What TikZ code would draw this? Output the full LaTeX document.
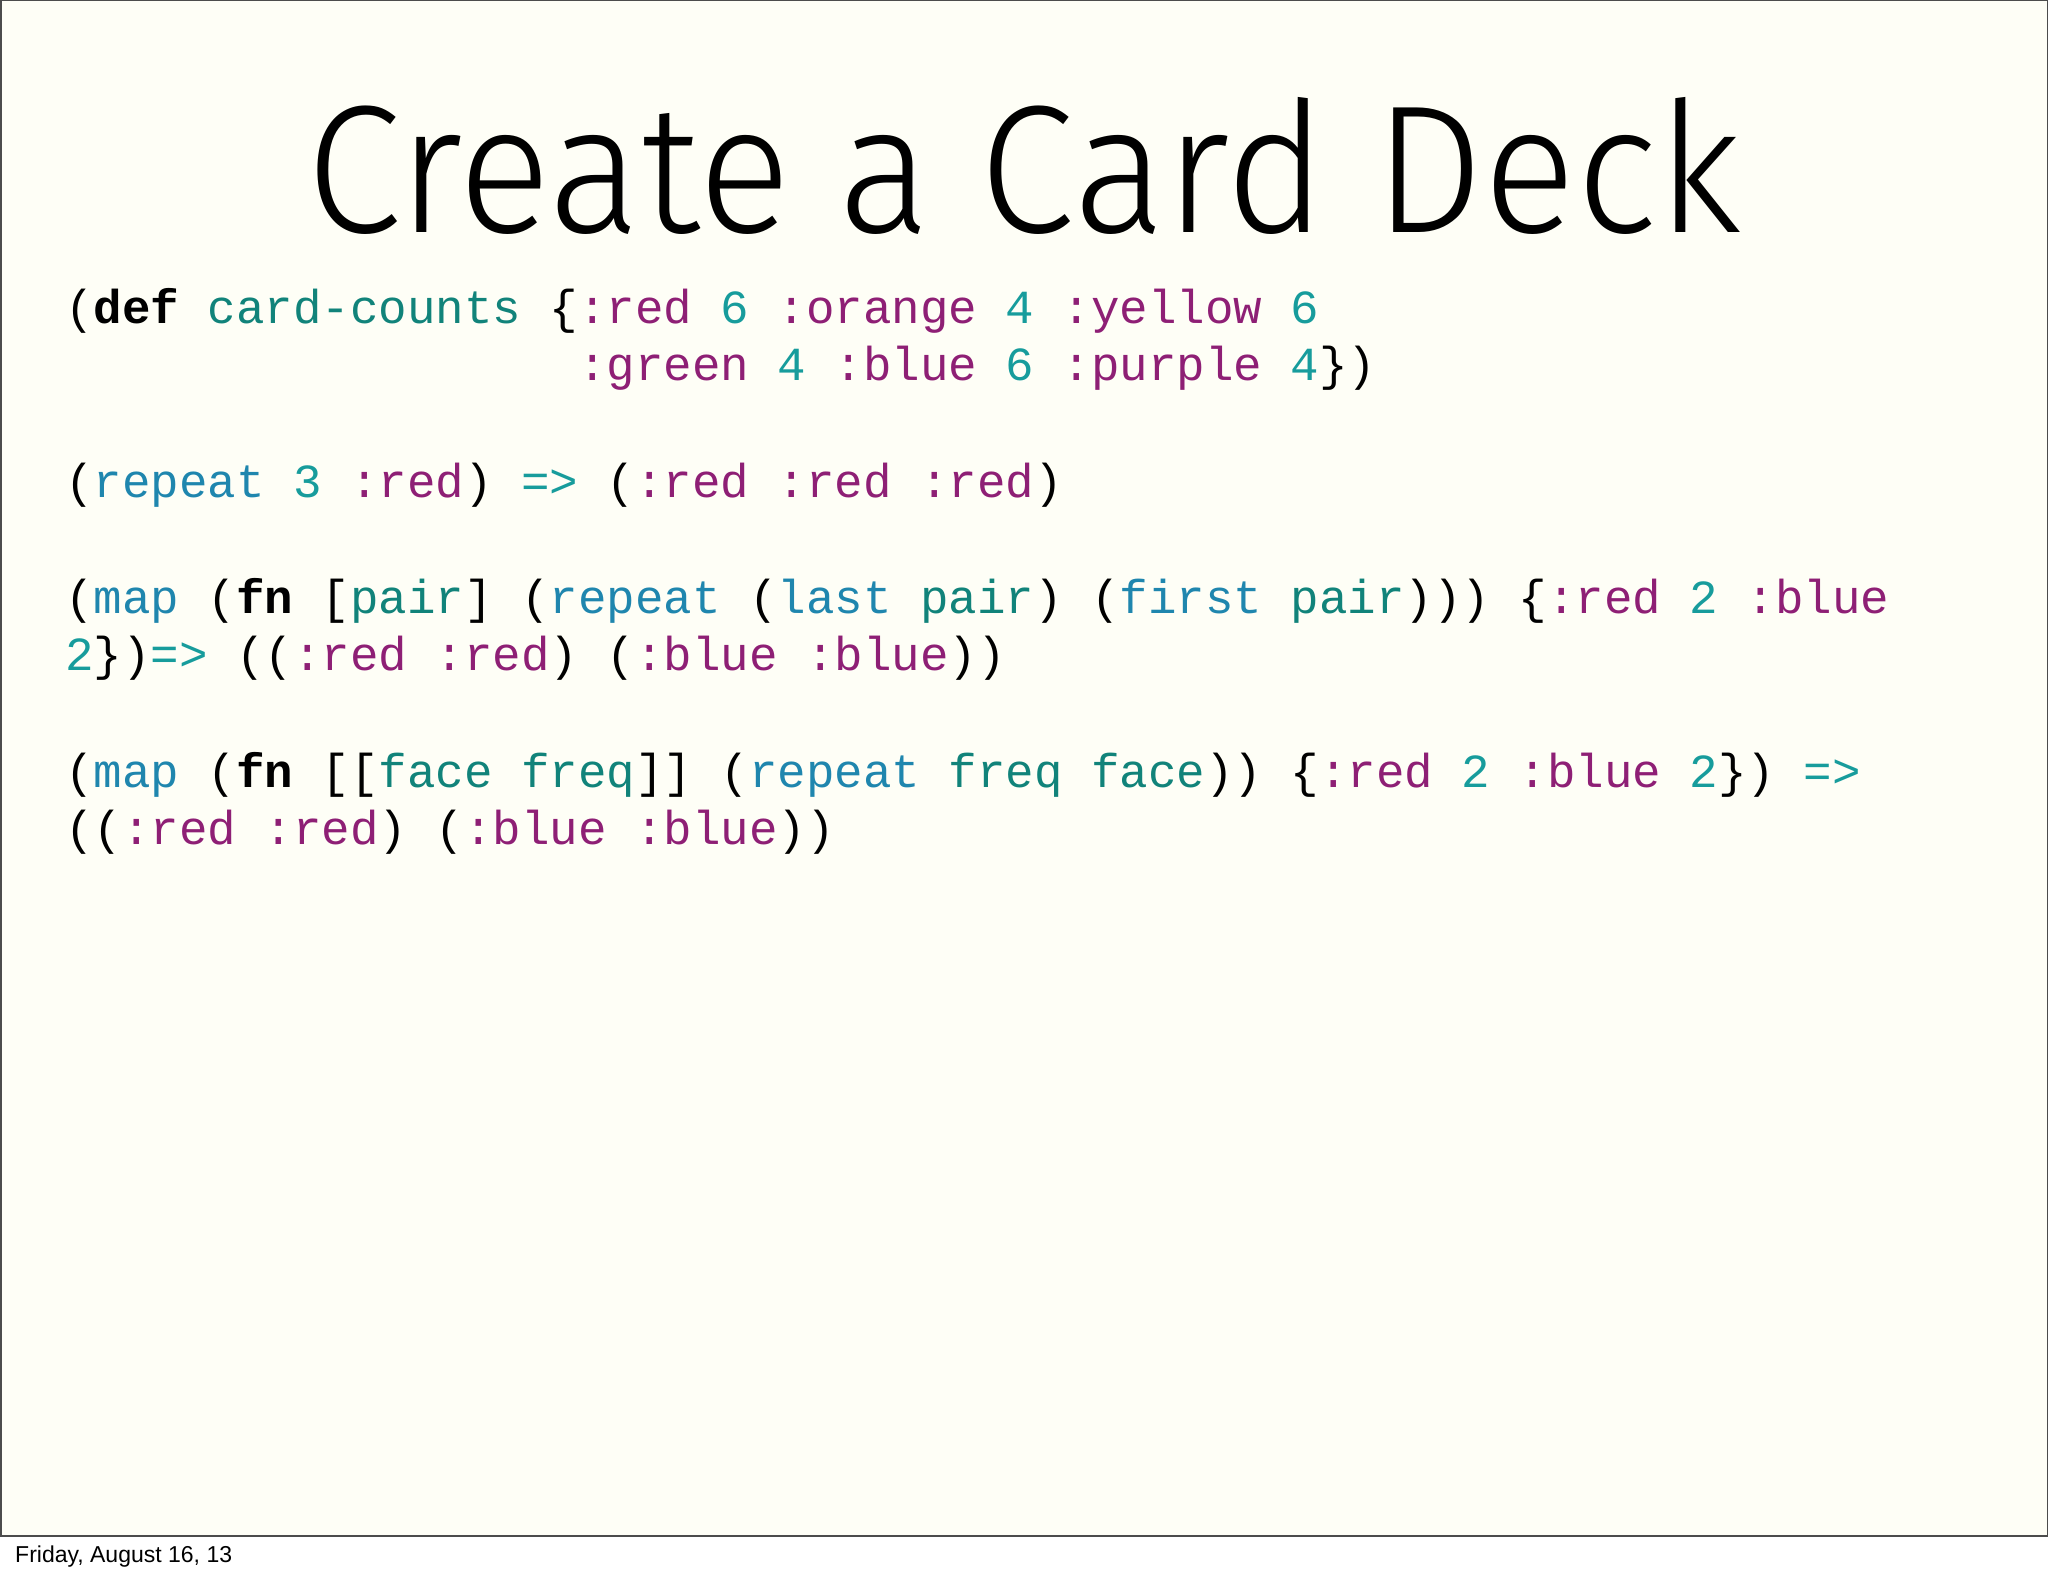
\documentclass[tikz,border=0pt]{standalone}
\usepackage{fontspec}
\setmainfont{Liberation Sans}
\newfontfamily\codefont{Liberation Mono}
\newfontfamily\titlefont{Fira Sans Light}
\definecolor{slidebg}{HTML}{FEFEF6}
\definecolor{kw}{HTML}{8E1F75}
\definecolor{num}{HTML}{179C9C}
\definecolor{fnc}{HTML}{1F86AE}
\definecolor{loc}{HTML}{11837A}
\newcommand{\K}[1]{\textcolor{kw}{#1}}
\newcommand{\N}[1]{\textcolor{num}{#1}}
\newcommand{\F}[1]{\textcolor{fnc}{#1}}
\newcommand{\Lc}[1]{\textcolor{loc}{#1}}
\newcommand{\B}[1]{\textbf{#1}}
\tikzset{code/.style={anchor=base west,inner sep=0pt,font=\codefont\fontsize{47.5}{57}\selectfont}}
\begin{document}
\begin{tikzpicture}[x=1pt,y=1pt]
\useasboundingbox (0,0) rectangle (2048,1576);
\fill[white] (0,0) rectangle (2048,1576);
\draw[fill=slidebg,line width=1.5pt,draw=black!70] (0.75,40) rectangle (2047.25,1575.25);
\node[anchor=base,inner sep=0pt] (title) at (1024,1343.5) {\resizebox{1434pt}{135pt}{\titlefont Create a Card Deck}};
\node[code] (l1) at (65,1252) {(\B{def} \Lc{card-counts} \{\K{:red} \N{6} \K{:orange} \N{4} \K{:yellow} \N{6}};
\node[code] (l2) at (65,1195) {\phantom{(def card-counts \{}\K{:green} \N{4} \K{:blue} \N{6} \K{:purple} \N{4}\})};
\node[code] (l3) at (65,1078.4) {(\F{repeat} \N{3} \K{:red}) \N{=>} (\K{:red} \K{:red} \K{:red})};
\node[code] (l4) at (65,962) {(\F{map} (\B{fn} [\Lc{pair}] (\F{repeat} (\F{last} \Lc{pair}) (\F{first} \Lc{pair}))) \{\K{:red} \N{2} \K{:blue}};
\node[code] (l5) at (65,905) {\N{2}\})\N{=>} ((\K{:red} \K{:red}) (\K{:blue} \K{:blue}))};
\node[code] (l6) at (65,788.5) {(\F{map} (\B{fn} [[\Lc{face} \Lc{freq}]] (\F{repeat} \Lc{freq} \Lc{face})) \{\K{:red} \N{2} \K{:blue} \N{2}\}) \N{=>}};
\node[code] (l7) at (65,731) {((\K{:red} \K{:red}) (\K{:blue} \K{:blue}))};
\node[anchor=base west,inner sep=0pt,font=\fontsize{23}{27}\selectfont] (foot) at (15,13) {Friday, August 16, 13};
\end{tikzpicture}
\end{document}
